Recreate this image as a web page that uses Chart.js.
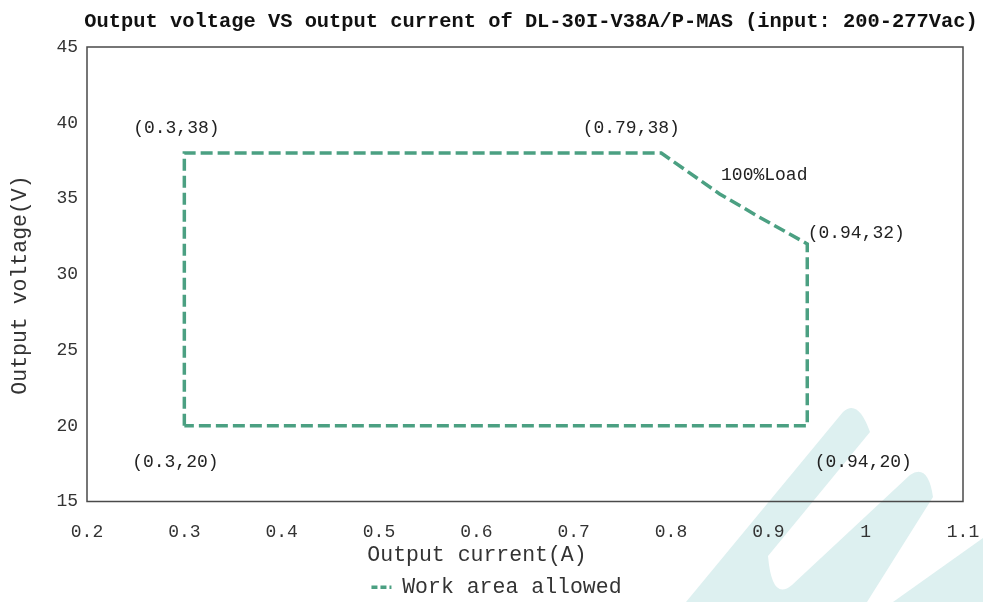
<!DOCTYPE html>
<html><head><meta charset="utf-8">
<script src="https://cdn.jsdelivr.net/npm/chart.js@4.4.0/dist/chart.umd.min.js"></script>
<style>html,body{margin:0;padding:0;background:#fff;}#wrap{width:983px;height:602px;position:relative;}</style>
</head><body><div id="wrap"><canvas id="c" width="983" height="602"></canvas></div>
<script>
// ---- data ----
const chartTitle = 'Output voltage VS output current of DL-30I-V38A/P-MAS (input: 200-277Vac)';
const xAxisTitle = 'Output current(A)';
const yAxisTitle = 'Output voltage(V)';
const seriesName = 'Work area allowed';
const currentA = [0.3, 0.3, 0.79, 0.85, 0.89, 0.94, 0.94, 0.3];
const voltageV = [20, 38, 38, 35.3, 33.8, 32, 20, 20];
const xTicks = [0.2, 0.3, 0.4, 0.5, 0.6, 0.7, 0.8, 0.9, 1, 1.1];
const yTicks = [15, 20, 25, 30, 35, 40, 45];
const noteTexts = ['(0.3,38)', '(0.79,38)', '100%Load', '(0.94,32)', '(0.3,20)', '(0.94,20)'];
const noteX = [0.3, 0.79, 0.79, 0.94, 0.3, 0.94];
const noteY = [38, 38, 38, 32, 20, 20];

// ---- styling / layout ----
const LINE_COLOR = '#4ba082';
const MONO = "'Liberation Mono', 'DejaVu Sans Mono', monospace";
const noteOffsets = [[-8, -25], [-30, -25], [103, 22], [49, -11], [-9, 36], [56, 36]];
const PLOT = {left: 87, top: 47, right: 963, bottom: 502};
const PAD_LEFT = 30;

const points = currentA.map((x, i) => ({x: x, y: voltageV[i]}));

const decor = {
  id: 'decor',
  beforeDraw(chart) {
    const ctx = chart.ctx;
    ctx.save();
    ctx.fillStyle = '#ffffff';
    ctx.fillRect(0, 0, chart.width, chart.height);
    // light watermark logo (decoration only)
    ctx.fillStyle = '#ddf0f0';
    ctx.beginPath();
    ctx.moveTo(843, 412);
    ctx.quadraticCurveTo(858, 398, 870, 432);
    ctx.lineTo(768, 556);
    ctx.quadraticCurveTo(772, 602, 792, 585);
    ctx.lineTo(910, 475);
    ctx.quadraticCurveTo(928, 463, 933, 497);
    ctx.lineTo(867, 602);
    ctx.lineTo(686, 602);
    ctx.closePath();
    ctx.fill();
    ctx.beginPath();
    ctx.moveTo(893, 602); ctx.lineTo(983, 538); ctx.lineTo(983, 602); ctx.closePath();
    ctx.fill();
    ctx.restore();
  },
  beforeDatasetsDraw(chart) {
    const ctx = chart.ctx, a = chart.chartArea;
    ctx.save();
    ctx.strokeStyle = '#4a4a4a';
    ctx.lineWidth = 1.5;
    ctx.strokeRect(a.left, a.top, a.right - a.left, a.bottom - a.top);
    ctx.restore();
  },
  afterDraw(chart) {
    const ctx = chart.ctx;
    const xs = chart.scales.x, ys = chart.scales.y;
    ctx.save();
    ctx.textAlign = 'center';
    ctx.textBaseline = 'middle';
    // title
    ctx.fillStyle = '#111';
    ctx.font = 'bold 20.4px ' + MONO;
    ctx.fillText(chartTitle, 531, 22);
    // axis titles
    ctx.fillStyle = '#333';
    ctx.font = '21.5px ' + MONO;
    ctx.fillText(xAxisTitle, 477, 555);
    ctx.save();
    ctx.translate(20, 285);
    ctx.rotate(-Math.PI / 2);
    ctx.fillText(yAxisTitle, 0, 0);
    ctx.restore();
    // point notes
    ctx.font = '18px ' + MONO;
    ctx.fillStyle = '#222';
    noteTexts.forEach((t, i) => {
      const px = xs.getPixelForValue(noteX[i]) + noteOffsets[i][0];
      const py = ys.getPixelForValue(noteY[i]) + noteOffsets[i][1];
      ctx.fillText(t, px, py);
    });
    ctx.restore();
  }
};

new Chart(document.getElementById('c'), {
  type: 'scatter',
  data: {
    datasets: [{
      label: seriesName,
      data: points,
      showLine: true,
      borderColor: LINE_COLOR,
      backgroundColor: LINE_COLOR,
      borderWidth: 3.5,
      borderDash: [12, 5],
      pointRadius: 0,
      pointHoverRadius: 0,
      fill: false,
      tension: 0
    }]
  },
  options: {
    responsive: false,
    animation: false,
    events: [],
    layout: {padding: {left: PAD_LEFT, right: 983 - PLOT.right, top: PLOT.top, bottom: -6}},
    plugins: {
      title: {display: false},
      tooltip: {enabled: false},
      legend: {
        display: true,
        position: 'bottom',
        labels: {
          font: {family: MONO, size: 21.5},
          color: '#333',
          usePointStyle: true,
          pointStyle: 'line',
          pointStyleWidth: 20,
          padding: 10,
          generateLabels(chart) {
            return Chart.defaults.plugins.legend.labels.generateLabels(chart).map(it => {
              it.lineDash = [6, 3];
              it.lineWidth = 3.5;
              it.pointStyle = 'line';
              return it;
            });
          }
        }
      }
    },
    scales: {
      x: {
        type: 'linear',
        min: xTicks[0],
        max: xTicks[xTicks.length - 1],
        afterBuildTicks: s => { s.ticks = xTicks.map(v => ({value: v})); },
        afterFit: s => { s.height = 65; s.paddingLeft = 0; s.paddingRight = 0; },
        grid: {display: false, drawTicks: false},
        border: {display: false},
        ticks: {
          padding: 20,
          color: '#333',
          font: {family: MONO, size: 18},
          maxRotation: 0,
          autoSkip: false,
          callback: v => String(Number(v.toFixed(2)))
        }
      },
      y: {
        type: 'linear',
        min: yTicks[0],
        max: yTicks[yTicks.length - 1],
        afterBuildTicks: s => { s.ticks = yTicks.map(v => ({value: v})); },
        afterFit: s => { s.width = PLOT.left - PAD_LEFT; },
        grid: {display: false, drawTicks: false},
        border: {display: false},
        ticks: {
          padding: 9,
          color: '#333',
          font: {family: MONO, size: 18},
          autoSkip: false,
          callback: v => String(v)
        }
      }
    }
  },
  plugins: [decor]
});
</script>
</body></html>
